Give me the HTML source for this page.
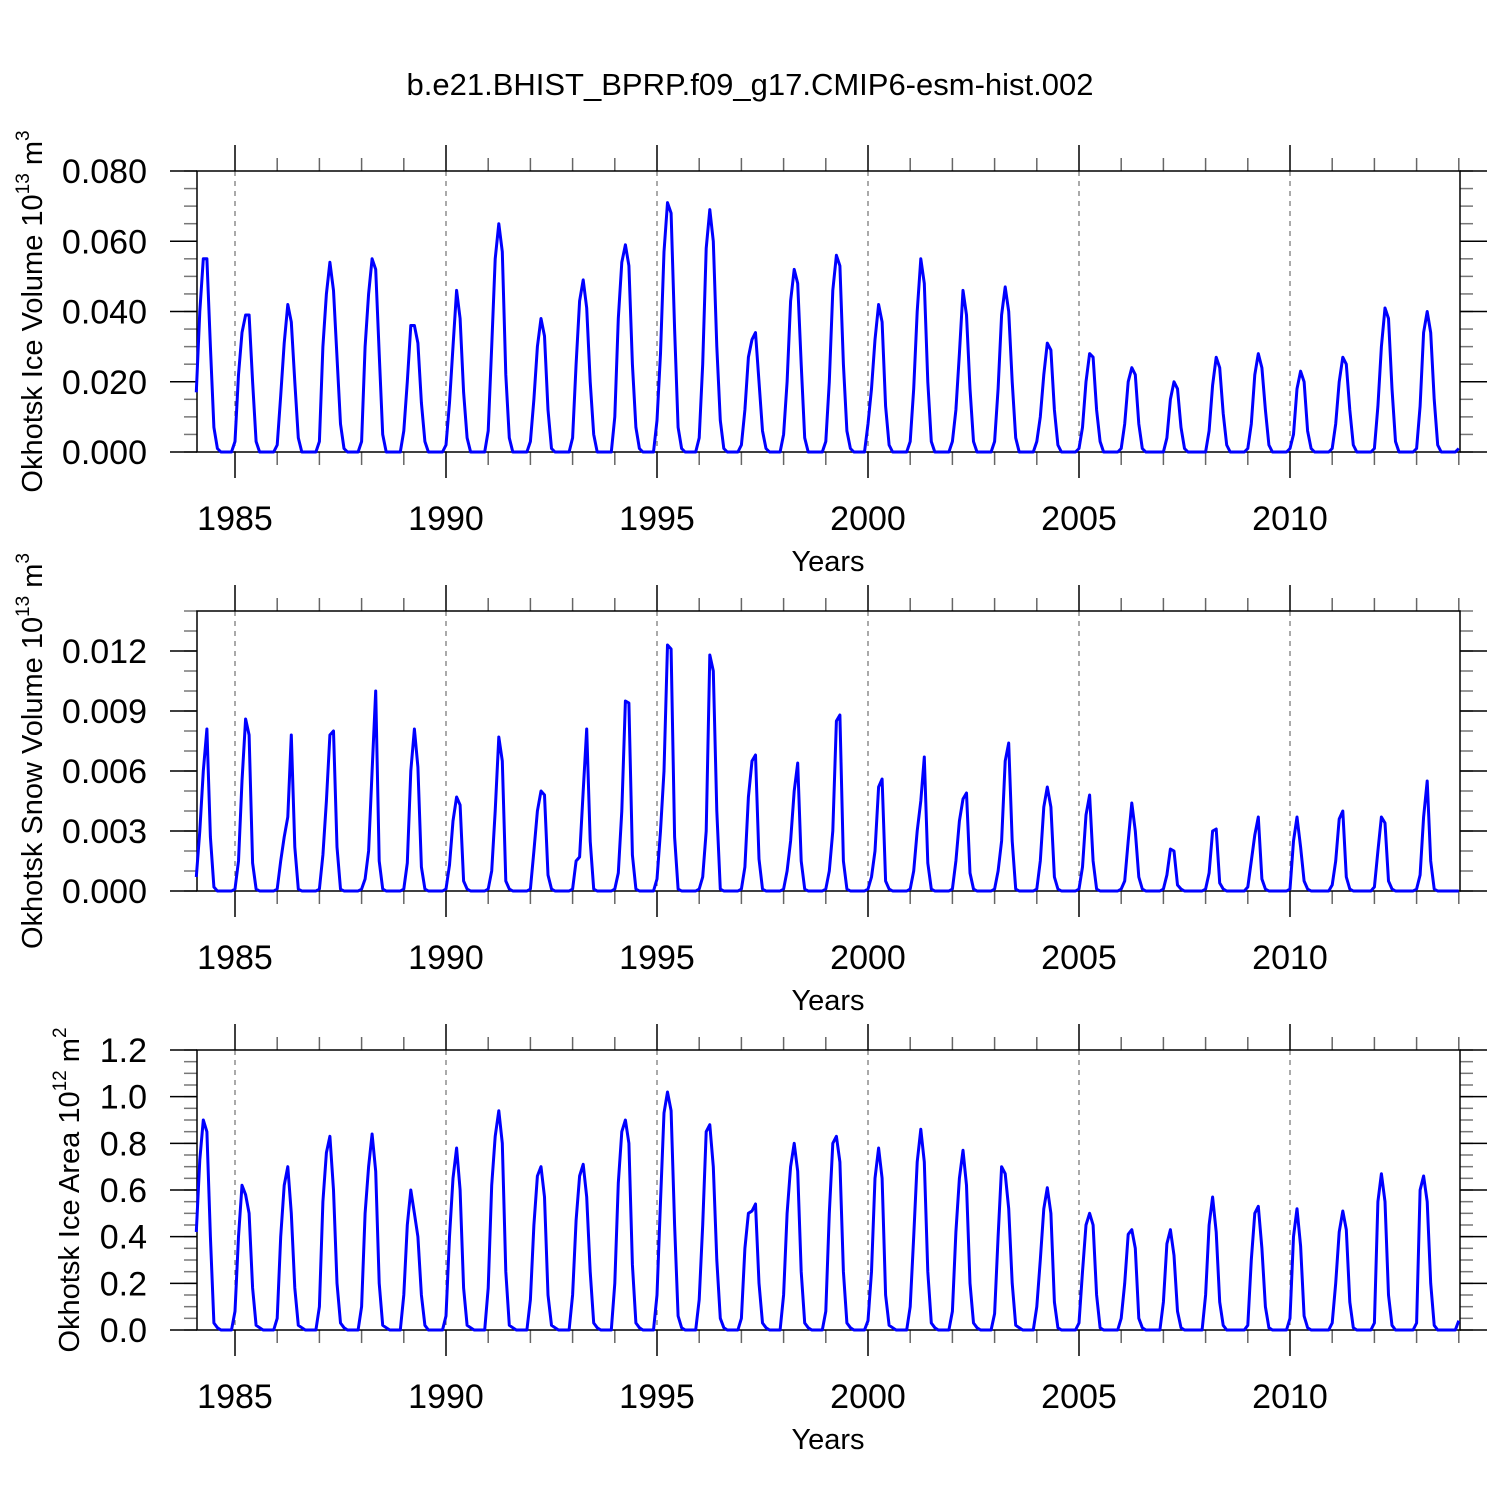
<!DOCTYPE html>
<html><head><meta charset="utf-8"><style>
html,body{margin:0;padding:0;background:#fff;}
svg{display:block;font-family:"Liberation Sans",Arial,sans-serif;}
</style></head><body>
<svg id="chart" width="1500" height="1500" viewBox="0 0 1500 1500" xmlns="http://www.w3.org/2000/svg">
<text x="750" y="95" font-size="31" text-anchor="middle">b.e21.BHIST_BPRP.f09_g17.CMIP6-esm-hist.002</text>
</svg>
<script>
const years = [1984,1985,1986,1987,1988,1989,1990,1991,1992,1993,1994,1995,1996,1997,1998,1999,2000,2001,2002,2003,2004,2005,2006,2007,2008,2009,2010,2011,2012,2013];
const xTickLabels = [1985,1990,1995,2000,2005,2010];
// Ice volume, units of 1e-3 (x10^13 m3), Jan..Dec per year
const iceVolume = [
[17,40,55,55,30,7,1,0,0,0,0,3],[22,34,39,39,20,3,0,0,0,0,0,2],[16,31,42,37,20,4,0,0,0,0,0,3],
[30,45,54,46,27,8,1,0,0,0,0,3],[30,45,55,52,28,5,0,0,0,0,0,6],[20,36,36,31,14,3,0,0,0,0,0,2],
[14,30,46,38,17,4,0,0,0,0,0,6],[30,55,65,57,22,4,0,0,0,0,0,3],[15,30,38,33,12,1,0,0,0,0,0,4],
[25,43,49,41,20,5,0,0,0,0,0,10],[38,54,59,53,25,7,1,0,0,0,0,9],[28,57,71,68,35,7,1,0,0,0,0,4],
[25,58,69,60,30,9,1,0,0,0,0,2],[12,27,32,34,20,6,1,0,0,0,0,5],[20,43,52,48,25,4,0,0,0,0,0,3],
[20,46,56,53,25,6,1,0,0,0,0,8],[18,32,42,37,13,2,0,0,0,0,0,3],[18,40,55,48,20,3,0,0,0,0,0,3],
[12,28,46,39,18,3,0,0,0,0,0,3],[18,39,47,40,20,4,0,0,0,0,0,3],[10,22,31,29,12,2,0,0,0,0,0,1],
[7,20,28,27,12,3,0,0,0,0,0,1],[8,20,24,22,8,1,0,0,0,0,0,0],[4,15,20,18,7,1,0,0,0,0,0,0],
[6,19,27,24,11,2,0,0,0,0,0,1],[8,22,28,24,12,2,0,0,0,0,0,1],[5,18,23,20,6,1,0,0,0,0,0,1],
[8,20,27,25,12,2,0,0,0,0,0,1],[13,30,41,38,18,3,0,0,0,0,0,1],[13,34,40,34,15,2,0,0,0,0,0,1]];
// Snow volume, units of 1e-4
const snowVolume = [
[7,30,60,81,27,2,0,0,0,0,0,1],[15,55,86,78,14,1,0,0,0,0,0,1],[15,27,37,78,22,1,0,0,0,0,0,1],
[18,45,78,80,22,1,0,0,0,0,0,1],[6,20,60,100,15,1,0,0,0,0,0,1],[14,60,81,62,12,1,0,0,0,0,0,1],
[13,35,47,43,5,1,0,0,0,0,0,1],[10,40,77,65,5,1,0,0,0,0,0,1],[20,40,50,48,8,1,0,0,0,0,0,1],
[15,17,50,81,25,1,0,0,0,0,0,1],[9,40,95,94,18,1,0,0,0,0,0,6],[30,60,123,121,27,1,0,0,0,0,0,1],
[7,30,118,110,40,1,0,0,0,0,0,1],[12,47,65,68,16,1,0,0,0,0,0,1],[10,25,50,64,15,1,0,0,0,0,0,1],
[10,30,85,88,15,1,0,0,0,0,0,1],[7,20,52,56,5,1,0,0,0,0,0,1],[10,30,45,67,14,1,0,0,0,0,0,1],
[15,35,46,49,9,1,0,0,0,0,0,1],[10,25,65,74,25,1,0,0,0,0,0,1],[15,42,52,42,7,1,0,0,0,0,0,1],
[12,38,48,15,1,0,0,0,0,0,0,1],[5,25,44,30,7,1,0,0,0,0,0,1],[8,21,20,3,1,0,0,0,0,0,0,1],
[9,30,31,4,1,0,0,0,0,0,0,2],[15,28,37,6,1,0,0,0,0,0,0,1],[25,37,22,5,1,0,0,0,0,0,0,3],
[15,36,40,7,1,0,0,0,0,0,0,2],[20,37,34,5,1,0,0,0,0,0,0,1],[8,37,55,15,1,0,0,0,0,0,0,0]];
// Ice area, units of 0.01 (x10^12 m2)
const iceArea = [
[42,73,90,85,40,3,1,0,0,0,0,8],[40,62,58,50,18,2,1,0,0,0,0,5],[40,62,70,50,18,2,1,0,0,0,0,10],
[55,76,83,60,20,3,1,0,0,0,0,10],[50,70,84,68,20,2,1,0,0,0,0,15],[45,60,50,40,15,2,0,0,0,0,0,6],
[40,65,78,60,18,2,1,0,0,0,0,18],[62,83,94,80,25,2,1,0,0,0,0,13],[45,66,70,57,15,2,1,0,0,0,0,15],
[47,66,71,57,25,3,1,0,0,0,0,20],[63,85,90,80,28,3,1,0,0,0,0,15],[55,93,102,94,45,6,1,0,0,0,0,13],
[45,85,88,70,30,5,1,0,0,0,0,5],[35,50,51,54,20,3,1,0,0,0,0,15],[50,70,80,68,25,3,1,0,0,0,0,8],
[50,80,83,72,25,3,1,0,0,0,0,4],[25,65,78,65,15,2,1,0,0,0,0,10],[40,72,86,72,25,3,1,0,0,0,0,8],
[42,65,77,62,20,3,1,0,0,0,0,7],[40,70,67,52,20,2,1,0,0,0,0,10],[30,52,61,50,12,1,0,0,0,0,0,3],
[25,45,50,45,15,1,0,0,0,0,0,5],[20,41,43,35,5,1,0,0,0,0,0,12],[37,43,32,8,1,0,0,0,0,0,0,15],
[45,57,42,12,2,0,0,0,0,0,0,2],[30,50,53,35,10,1,0,0,0,0,0,5],[40,52,36,6,1,0,0,0,0,0,0,3],
[20,42,51,43,12,1,0,0,0,0,0,3],[55,67,55,15,2,0,0,0,0,0,0,3],[60,66,55,20,2,0,0,0,0,0,0,4]];
const ivTicks = ["0.000","0.020","0.040","0.060","0.080"];
const svTicks = ["0.000","0.003","0.006","0.009","0.012"];
const iaTicks = ["0.0","0.2","0.4","0.6","0.8","1.0","1.2"];

const NS="http://www.w3.org/2000/svg";
const svg=document.getElementById('chart');
const L=197,R=1460;
function xs(t){return 235+(t-1985)*42.2;}
function mk(tag,attrs,parent){const e=document.createElementNS(NS,tag);for(const k in attrs)e.setAttribute(k,attrs[k]);(parent||svg).appendChild(e);return e;}

function panel(name,top,bot,ymax,data,scale,ticks,tickStep,minorStep,titleMain,sup,unit,unitSup){
  const g=mk('g',{});
  
  
  const ys=v=>bot-(v/ymax)*(bot-top);
  xTickLabels.forEach(yr=>{
    const l=mk('line',{x1:xs(yr),x2:xs(yr),y1:top,y2:bot,stroke:'#555','stroke-width':1,'stroke-dasharray':'5,5'},g);
    
    
  });
  for(let yr=1985;yr<=2014;yr++){
    const major=yr%5===0, len=major?26:13, c=major?'#000':'#666';
    if(xs(yr)>R+1)continue;
    mk('line',{x1:xs(yr),x2:xs(yr),y1:top,y2:top-len,stroke:c,'stroke-width':1.5},g);
    mk('line',{x1:xs(yr),x2:xs(yr),y1:bot,y2:bot+len,stroke:c,'stroke-width':1.5},g);
  }
  xTickLabels.forEach(yr=>{
    const t=mk('text',{x:xs(yr),y:bot+78,'font-size':34,'text-anchor':'middle'},g);
    t.textContent=yr;
    
    
  });
  const xt=mk('text',{x:828,y:bot+119,'font-size':29,'text-anchor':'middle'},g);
  xt.textContent='Years';
  
  
  for(let v=0;v<=ymax+1e-9;v+=minorStep){
    const y=ys(v);
    mk('line',{x1:L,x2:L-13,y1:y,y2:y,stroke:'#777','stroke-width':1.5},g);
    mk('line',{x1:R,x2:R+13,y1:y,y2:y,stroke:'#777','stroke-width':1.5},g);
  }
  ticks.forEach((lab,i)=>{
    const y=ys(i*tickStep);
    mk('line',{x1:L,x2:L-27,y1:y,y2:y,stroke:'#000','stroke-width':1.5},g);
    mk('line',{x1:R,x2:R+27,y1:y,y2:y,stroke:'#000','stroke-width':1.5},g);
    const t=mk('text',{x:147,y:y+12,'font-size':34,'text-anchor':'end'},g);
    t.textContent=lab;
    
    
  });
  const f=mk('rect',{x:L,y:top,width:R-L,height:bot-top,fill:'none',stroke:'#000','stroke-width':1.5},g);
  
  
  const pts=[];
  data.forEach((row,yi)=>row.forEach((v,m)=>{pts.push(xs(years[yi]+(m+1)/12).toFixed(1)+','+ys(v*scale).toFixed(1));}));
  const p=mk('polyline',{points:pts.join(' '),fill:'none',stroke:'#0000ff','stroke-width':3,'stroke-linejoin':'round'},g);
  
  
  const cy=(top+bot)/2;
  const yt=mk('text',{x:0,y:0,'font-size':29,'text-anchor':'middle',transform:'translate('+(name==='ice-area'?79:42)+','+cy+') rotate(-90)'},g);
  
  
  yt.innerHTML=titleMain+' 10<tspan font-size="19" dy="-13">'+sup+'</tspan><tspan dy="13"> '+unit+'</tspan><tspan font-size="19" dy="-13">'+unitSup+'</tspan>';
}
panel('ice-volume',171,452,0.08,iceVolume,0.001,ivTicks,0.02,0.005,'Okhotsk Ice Volume','13','m','3');
panel('snow-volume',611,891,0.014,snowVolume,0.0001,svTicks,0.003,0.001,'Okhotsk Snow Volume','13','m','3');
panel('ice-area',1050,1330,1.2,iceArea,0.01,iaTicks,0.2,0.05,'Okhotsk Ice Area','12','m','2');
</script>
</body></html>
